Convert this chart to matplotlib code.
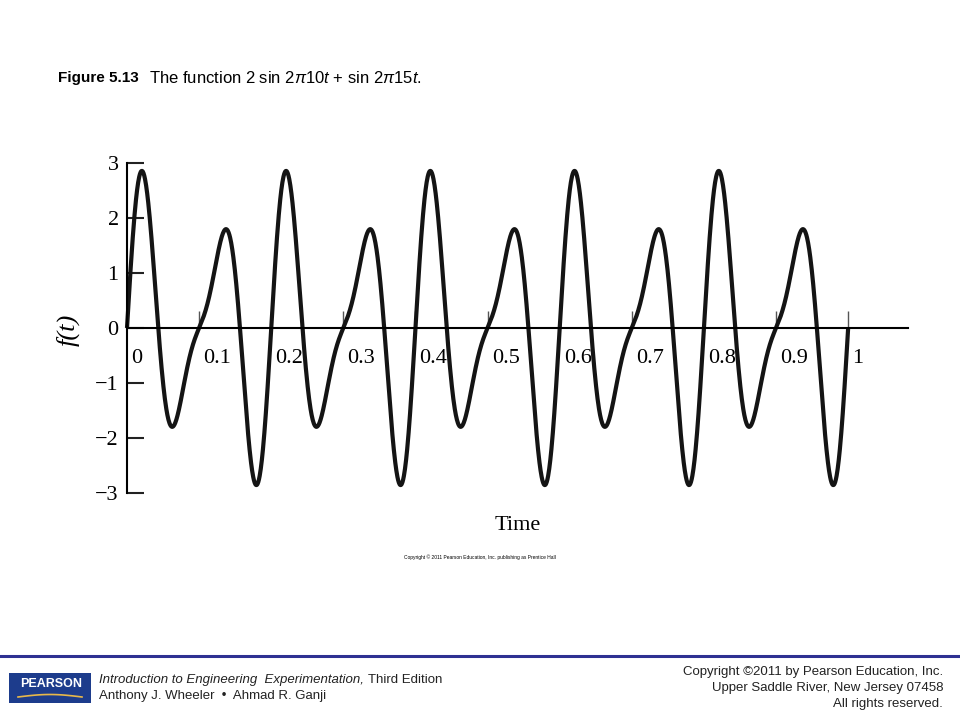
import numpy as np
import matplotlib.pyplot as plt
from matplotlib.patches import Rectangle
from matplotlib.transforms import ScaledTranslation

# function components read from the caption: 2 sin 2pi10t + sin 2pi15t
amplitudes = [2.0, 1.0]
frequencies = [10.0, 15.0]
t_start, t_end = 0.0, 1.0

xtick_values = [0, 0.1, 0.2, 0.3, 0.4, 0.5, 0.6, 0.7, 0.8, 0.9, 1]
xtick_labels = ['0', '0.1', '0.2', '0.3', '0.4', '0.5', '0.6', '0.7', '0.8', '0.9', '1']
ytick_values = [-3, -2, -1, 0, 1, 2, 3]
ytick_labels = ['\u22123', '\u22122', '\u22121', '0', '1', '2', '3']

plt.rcParams['mathtext.fontset'] = 'custom'
plt.rcParams['mathtext.rm'] = 'Liberation Sans'
plt.rcParams['mathtext.it'] = 'Liberation Sans:italic'

t = np.linspace(t_start, t_end, 2001)
f = np.zeros_like(t)
for a, fr in zip(amplitudes, frequencies):
    f += a * np.sin(2 * np.pi * fr * t)

fig = plt.figure(figsize=(9.6, 7.2), dpi=100)
ax = fig.add_axes([127 / 960, 227 / 720, 781 / 960, 330 / 720])

ax.plot(t, f, color='#141414', lw=3, clip_on=False, solid_capstyle='butt')

ax.set_xlim(0, 1.083)
ax.set_ylim(-3, 3)
ax.spines['top'].set_visible(False)
ax.spines['right'].set_visible(False)
ax.spines['bottom'].set_position(('data', 0))
ax.spines['bottom'].set_linewidth(1.5)
ax.spines['left'].set_linewidth(1.5)
ax.spines['left'].set_bounds(-3, 3)

serif = 'Liberation Serif'
ax.set_yticks(ytick_values)
ax.set_yticklabels(ytick_labels, fontfamily=serif, fontsize=16)
ax.tick_params(axis='y', direction='in', length=12, width=1.5, pad=6, color='#222222')

ax.set_xticks(xtick_values)
ax.set_xticklabels(xtick_labels, fontfamily=serif, fontsize=16)
ax.tick_params(axis='x', direction='in', length=12, width=1, pad=15, color='#555555')
shift = ScaledTranslation(3 / 72, 0, fig.dpi_scale_trans)
for lab in ax.get_xticklabels():
    lab.set_horizontalalignment('left')
    lab.set_transform(lab.get_transform() + shift)

fig.text(68 / 960, 1 - 330 / 720, 'f(t)', fontfamily=serif, fontsize=19,
         rotation=90, ha='center', va='center', style='italic')
fig.text(518 / 960, 1 - 525 / 720, 'Time', fontfamily=serif, fontsize=16,
         ha='center', va='center')
fig.text(480 / 960, 1 - 557 / 720,
         'Copyright \u00a9 2011 Pearson Education, Inc. publishing as Prentice Hall',
         fontsize=3.5, ha='center', va='center', fontfamily='Liberation Sans')

# caption
fig.text(58 / 960, 1 - 78 / 720, 'Figure 5.13', fontsize=11, fontweight='bold',
         fontfamily='Liberation Sans', ha='left', va='center')
fig.text(149 / 960, 1 - 78 / 720,
         'The function 2 sin 2$\\pi$10$t$ + sin 2$\\pi$15$t$.',
         fontsize=12, fontfamily='Liberation Sans', ha='left', va='center')

# footer
fig.add_artist(plt.Line2D([0, 1], [1 - 656 / 720] * 2, transform=fig.transFigure,
                          color='#2e3192', lw=2.2))
fig.add_artist(Rectangle((9 / 960, 1 - 703 / 720), 82 / 960, 30 / 720,
                         transform=fig.transFigure, facecolor='#1d3c8c',
                         edgecolor='none'))
fig.text(51 / 960, 1 - 684 / 720, 'PEARSON', color='white', fontsize=9,
         fontweight='bold', fontfamily='Liberation Sans', ha='center', va='center')
sx = np.linspace(18, 82, 50)
sy = 697 - 2.5 * np.sin(np.pi * (sx - 18) / 64)
fig.add_artist(plt.Line2D(sx / 960, 1 - sy / 720, transform=fig.transFigure,
                          color='#e8b84a', lw=1.2))

t1 = fig.text(99 / 960, 1 - 680 / 720, 'Introduction to Engineering  Experimentation,',
              fontsize=9.5, style='italic', fontfamily='Liberation Sans',
              ha='left', va='center', color='#222222')
renderer = fig.canvas.get_renderer()
bb = t1.get_window_extent(renderer)
fig.text((bb.x1 + 4) / 960, 1 - 680 / 720, 'Third Edition', fontsize=9.5,
         fontfamily='Liberation Sans', ha='left', va='center', color='#222222')
fig.text(99 / 960, 1 - 696 / 720, 'Anthony J. Wheeler  \u2022  Ahmad R. Ganji',
         fontsize=9.5, fontfamily='Liberation Sans', ha='left', va='center',
         color='#222222')

right_lines = ['Copyright \u00a92011 by Pearson Education, Inc.',
               'Upper Saddle River, New Jersey 07458',
               'All rights reserved.']
for i, line in enumerate(right_lines):
    fig.text(943 / 960, 1 - (672 + 16 * i) / 720, line, fontsize=9.5,
             fontfamily='Liberation Sans', ha='right', va='center', color='#222222')

fig.savefig('out.png', dpi=100)
